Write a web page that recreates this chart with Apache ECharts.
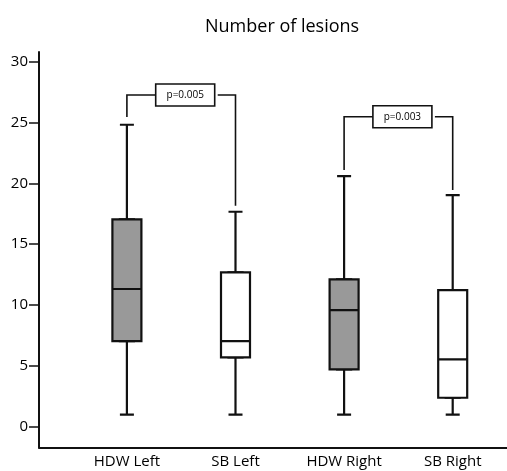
<!DOCTYPE html>
<html>
<head>
<meta charset="utf-8">
<script src="https://cdn.jsdelivr.net/npm/echarts@6/dist/echarts.min.js"></script>
<style>
html, body { margin: 0; padding: 0; background: #fff; }
#main { width: 507px; height: 471px; }
</style>
</head>
<body>
<div id="main"></div>
<script>
// groups on the x axis
var groups = ['HDW Left', 'SB Left', 'HDW Right', 'SB Right'];
// min, Q1, median, Q3, max
var lowWhisker = [1, 1, 1, 1];
var q1 = [7.04, 5.7, 4.72, 2.38];
var median = [11.32, 7.04, 9.59, 5.54];
var q3 = [17.05, 12.69, 12.11, 11.23];
var highWhisker = [24.82, 17.67, 20.6, 19.04];
var boxFill = ['#999999', '#ffffff', '#999999', '#ffffff'];
// y axis ticks
var yTicks = [0, 5, 10, 15, 20, 25, 30];
// significance brackets: left group, right group, left foot, right foot, top
var bracketLeft = [0, 2];
var bracketRight = [1, 3];
var bracketLeftFoot = [25.45, 21.1];
var bracketRightFoot = [18.16, 19.45];
var bracketTop = [27.26, 25.48];
var pLabels = ['p=0.005', 'p=0.003'];

var yMin = -1.71, yMax = 30.8;
var font = '"Open Sans"';
var ink = '#111';

var whiskerData = groups.map(function (g, i) {
    return [lowWhisker[i], q1[i], median[i], q3[i], highWhisker[i]];
});
var boxData = groups.map(function (g, i) {
    return {
        value: [q1[i], q1[i], median[i], q3[i], q3[i]],
        itemStyle: { color: boxFill[i] }
    };
});
var bracketData = pLabels.map(function (p, i) {
    return [bracketLeft[i], bracketRight[i], bracketLeftFoot[i], bracketRightFoot[i], bracketTop[i]];
});

function renderBracket(params, api) {
    var top = api.value(4);
    var l = api.coord([api.value(0), top]);
    var r = api.coord([api.value(1), top]);
    var lb = api.coord([api.value(0), api.value(2)]);
    var rb = api.coord([api.value(1), api.value(3)]);
    var w = 59, h = 22;
    var cx = (l[0] + r[0]) / 2 + 4;
    var lineStyle = { stroke: ink, lineWidth: 1.6, fill: null };
    return {
        type: 'group',
        children: [
            { type: 'polyline', shape: { points: [lb, l, [cx - w / 2, l[1]]] }, style: lineStyle },
            { type: 'polyline', shape: { points: [[cx + w / 2 + 3, r[1]], r, rb] }, style: lineStyle },
            {
                type: 'rect',
                shape: { x: cx - w / 2, y: l[1] - h / 2, width: w, height: h },
                style: { fill: '#fff', stroke: ink, lineWidth: 1.6 }
            },
            {
                type: 'text',
                x: cx, y: l[1],
                style: {
                    text: pLabels[params.dataIndex], fill: '#000',
                    font: '10px ' + font, align: 'center', verticalAlign: 'middle'
                }
            }
        ]
    };
}

var chart = echarts.init(document.getElementById('main'));
var option = {
    backgroundColor: '#fff',
    animation: false,
    title: {
        text: 'Number of lesions',
        left: 200,
        top: 13,
        textStyle: { fontFamily: font, fontSize: 18, fontWeight: 'normal', color: '#000' }
    },
    grid: [
        // axes frame
        { left: 39, right: 0, top: 52, bottom: 23.5 },
        // boxes
        { left: 72.6, right: -12.6, top: 52, bottom: 23.5 }
    ],
    xAxis: [
        {
            type: 'category', gridIndex: 0, data: [''],
            axisLine: { onZero: false, lineStyle: { color: ink, width: 2 } },
            axisTick: { show: false }, axisLabel: { show: false }
        },
        {
            type: 'category', gridIndex: 1, data: groups,
            axisLine: { show: false, onZero: false }, axisTick: { show: false },
            axisLabel: { margin: 7, color: '#000', fontFamily: font, fontSize: 15 }
        },
        {
            type: 'category', gridIndex: 1, data: groups, show: false,
            axisLine: { onZero: false }
        }
    ],
    yAxis: [
        {
            type: 'value', gridIndex: 0, min: yMin, max: yMax,
            splitLine: { show: false },
            axisLine: { show: true, onZero: false, lineStyle: { color: ink, width: 2 } },
            axisTick: { show: true, length: 10, customValues: yTicks, lineStyle: { color: ink, width: 1.5 } },
            axisLabel: { customValues: yTicks, margin: 11, color: '#000', fontFamily: font, fontSize: 15 }
        },
        {
            type: 'value', gridIndex: 1, min: yMin, max: yMax, show: false,
            splitLine: { show: false }
        }
    ],
    series: [
        {
            name: 'whiskers',
            type: 'boxplot',
            xAxisIndex: 1, yAxisIndex: 1,
            boxWidth: [14, 14],
            itemStyle: { color: '#fff', borderColor: ink, borderWidth: 2.2 },
            emphasis: { disabled: true },
            data: whiskerData
        },
        {
            name: 'boxes',
            type: 'boxplot',
            xAxisIndex: 2, yAxisIndex: 1,
            boxWidth: [29, 29],
            itemStyle: { borderColor: ink, borderWidth: 2.2 },
            emphasis: { disabled: true },
            data: boxData
        },
        {
            name: 'brackets',
            type: 'custom',
            xAxisIndex: 1, yAxisIndex: 1,
            renderItem: renderBracket,
            encode: { x: 0, y: 4 },
            silent: true,
            data: bracketData
        }
    ]
};
chart.setOption(option);
</script>
</body>
</html>
